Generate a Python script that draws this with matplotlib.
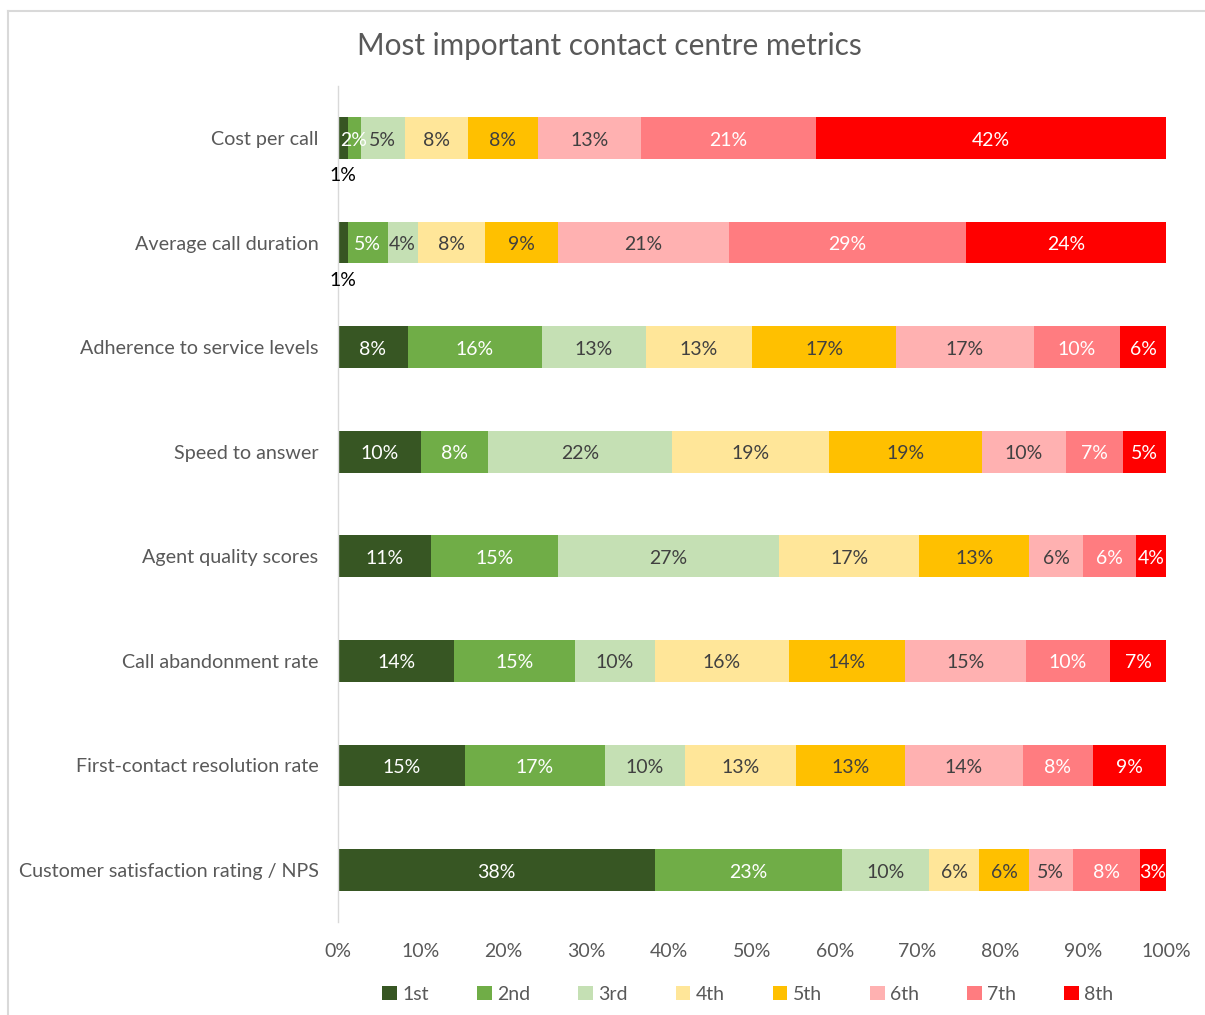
import matplotlib
matplotlib.use("Agg")
import matplotlib.pyplot as plt
from matplotlib.lines import Line2D
from matplotlib.patches import Patch
import numpy as np

plt.rcParams["font.family"] = ["Lato", "DejaVu Sans"]

categories = [
    "Cost per call",
    "Average call duration",
    "Adherence to service levels",
    "Speed to answer",
    "Agent quality scores",
    "Call abandonment rate",
    "First-contact resolution rate",
    "Customer satisfaction rating / NPS",
]
ranks = ["1st", "2nd", "3rd", "4th", "5th", "6th", "7th", "8th"]

rank1 = [1.15, 1.15, 8.40, 10.01, 11.18, 14.03, 15.29, 38.25]
rank2 = [1.57, 4.83, 16.20, 8.10, 15.38, 14.55, 16.92, 22.66]
rank3 = [5.32, 3.63, 12.55, 22.20, 26.72, 9.67, 9.70, 10.45]
rank4 = [7.65, 8.10, 12.90, 18.97, 16.92, 16.19, 13.34, 6.08]
rank5 = [8.42, 8.82, 17.35, 18.53, 13.29, 14.05, 13.24, 6.01]
rank6 = [12.53, 20.66, 16.60, 10.11, 6.45, 14.59, 14.22, 5.32]
rank7 = [21.06, 28.64, 10.45, 6.89, 6.45, 10.15, 8.46, 8.10]
rank8 = [42.30, 24.17, 5.55, 5.20, 3.61, 6.77, 8.82, 3.14]

xticks = [0, 10, 20, 30, 40, 50, 60, 70, 80, 90, 100]

colors = ["#375623", "#70AD47", "#C5E0B4", "#FFE699", "#FFC000", "#FFB1B1", "#FF7C80", "#FF0000"]
label_colors = ["white", "white", "#404040", "#404040", "#404040", "#404040", "white", "white"]

series = np.array([rank1, rank2, rank3, rank4, rank5, rank6, rank7, rank8], dtype=float)
series = series / series.sum(axis=0) * 100.0

W, H = 1205, 1015
fig = plt.figure(figsize=(W / 100, H / 100), dpi=100)
ax = fig.add_axes([338 / W, 1 - 922.3 / H, (1166 - 338) / W, (922.3 - 85.7) / H])

y = np.arange(len(categories))
left = np.zeros(len(categories))
for i, r in enumerate(ranks):
    vals = series[i]
    ax.barh(y, vals, left=left, height=0.4, color=colors[i], label=r, edgecolor="none")
    for j, v in enumerate(vals):
        txt = f"{v:.0f}%"
        cx = left[j] + v / 2
        if v < 1.5 and i == 0:
            ax.text(cx, y[j] + 0.36, txt, ha="center", va="center", fontsize=14, color="black")
        else:
            ax.text(cx, y[j] + 0.02, txt, ha="center", va="center", fontsize=14, color=label_colors[i])
    left = left + vals

ax.set_ylim(len(categories) - 0.5, -0.5)
ax.set_xlim(0, 100)
ax.set_yticks(y)
ax.set_yticklabels(categories, fontsize=14.2, color="#595959")
ax.set_xticks(xticks)
ax.set_xticklabels([f"{t}%" for t in xticks], fontsize=14, color="#595959")
ax.tick_params(axis="both", length=0)
ax.tick_params(axis="x", pad=15)
ax.tick_params(axis="y", pad=14)
for s in ["top", "right", "bottom"]:
    ax.spines[s].set_visible(False)
ax.spines["left"].set_color("#D9D9D9")
ax.spines["left"].set_linewidth(1.0)

fig.text(609 / W, 1 - 46 / H, "Most important contact centre metrics", ha="center", va="center",
         fontsize=21.4, color="#595959")

handles = [Patch(facecolor=c, edgecolor="none") for c in colors]
fig.legend(handles, ranks, loc="center", bbox_to_anchor=(748 / W, 1 - 994 / H), ncol=8,
           frameon=False, fontsize=14, handlelength=0.75, handleheight=0.75,
           handletextpad=0.3, columnspacing=2.45, labelcolor="#595959")

# chart border (light gray), cropped on right and bottom
fig.add_artist(Line2D([8 / W, 8 / W], [1 - 11 / H, 0], color="#D9D9D9", lw=1.5, transform=fig.transFigure))
fig.add_artist(Line2D([8 / W, 1], [1 - 11 / H, 1 - 11 / H], color="#D9D9D9", lw=1.5, transform=fig.transFigure))

fig.savefig("out.png", dpi=100, facecolor="white")
